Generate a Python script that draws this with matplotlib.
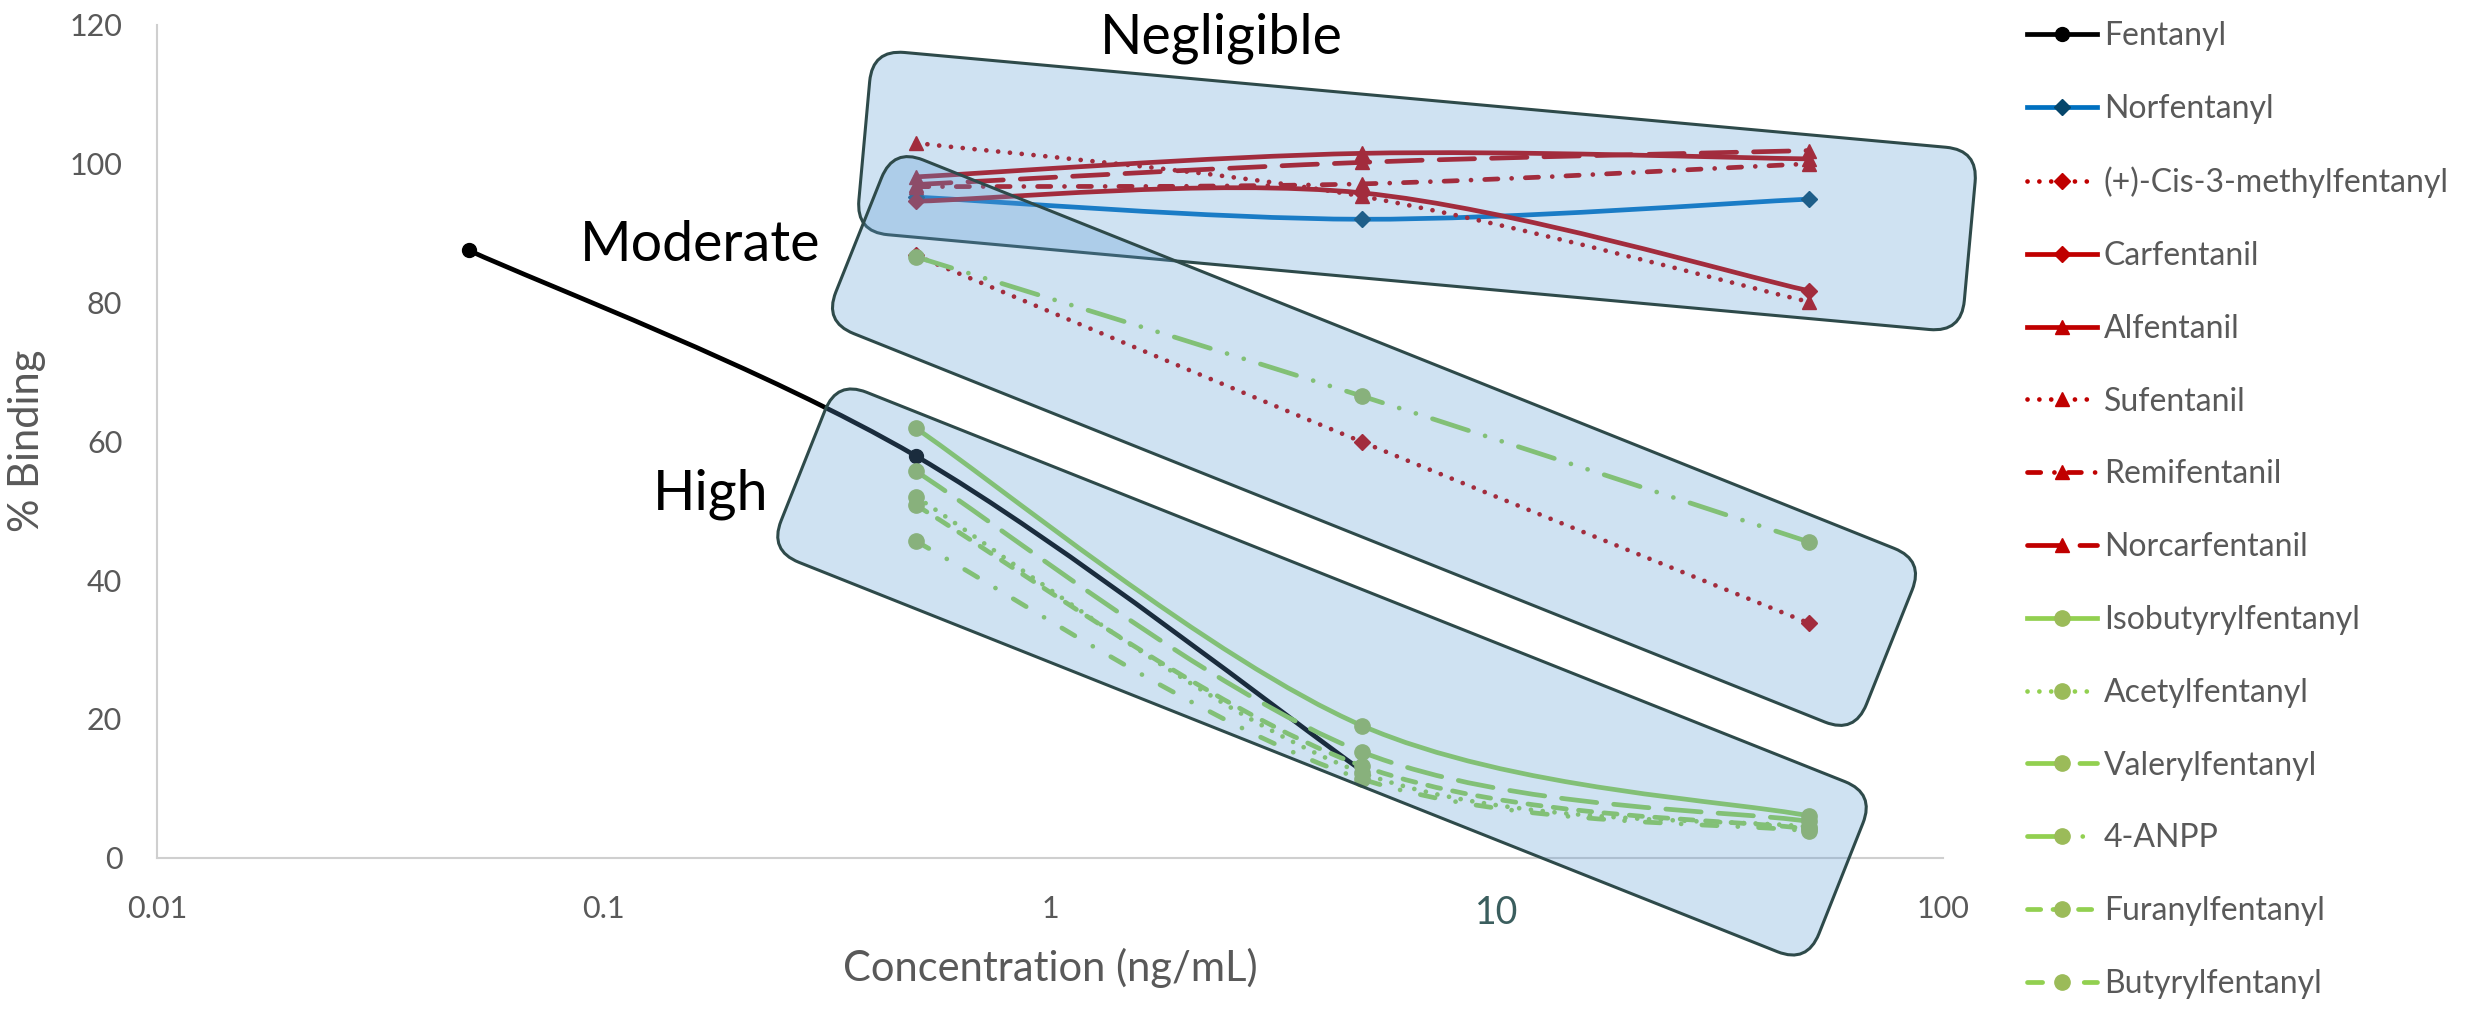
import numpy as np
import matplotlib
matplotlib.use("Agg")
import matplotlib.pyplot as plt
from matplotlib.path import Path
from matplotlib.patches import PathPatch, FancyBboxPatch
from matplotlib.lines import Line2D
from matplotlib.transforms import Affine2D
from matplotlib.ticker import NullLocator

plt.rcParams['font.family'] = ['Lato', 'DejaVu Sans']

# concentrations (ng/mL)
conc_fentanyl = [0.05, 0.5, 5]
conc = [0.5, 5, 50]

# % binding
fentanyl = [87.5, 57.9, 12.5]
norfentanyl = [95.2, 92.0, 94.9]
cis3_methylfentanyl = [86.8, 59.9, 33.8]
carfentanil = [94.6, 95.8, 81.7]
alfentanil = [98.1, 101.5, 100.7]
sufentanil = [103.0, 95.3, 80.1]
remifentanil = [96.7, 97.1, 100.0]
norcarfentanil = [97.0, 100.2, 101.9]
isobutyrylfentanyl = [61.9, 19.0, 6.0]
acetylfentanyl = [52.0, 12.2, 4.4]
valerylfentanyl = [55.7, 15.2, 5.2]
anpp = [86.6, 66.5, 45.5]
furanylfentanyl = [50.8, 13.2, 4.1]
butyrylfentanyl = [45.6, 11.3, 3.8]

x_ticks = [0.01, 0.1, 1, 10, 100]
x_tick_labels = ["0.01", "0.1", "1", "10", "100"]
y_ticks = [0, 20, 40, 60, 80, 100, 120]

W, H = 2483, 1010

RED = "#C00000"
GREEN = "#92D050"
GREEN_M = "#9BBB59"
LW = 3.4

solid = "-"
dot = (0, (0.01, 2.5))
dash = (0, (2.8, 2.6))
lgdash = (0, (7.5, 3.6))
dashdot = (0, (2.8, 2.9, 0.01, 2.9))
lgdashdot = (0, (3.2, 4.4, 0.01, 4.4))
lgdashdotdot = (0, (8.0, 3.7, 0.01, 3.7, 0.01, 3.7))

# label, x, y, line colour, marker, marker colour, marker size, linestyle
series = [
    ("Fentanyl", conc_fentanyl, fentanyl, "black", "o", "black", 10, solid),
    ("Norfentanyl", conc, norfentanyl, "#0070C0", "D", "#06466B", 8, solid),
    ("(+)-Cis-3-methylfentanyl", conc, cis3_methylfentanyl, RED, "D", RED, 8, dot),
    ("Carfentanil", conc, carfentanil, RED, "D", RED, 8, solid),
    ("Alfentanil", conc, alfentanil, RED, "^", RED, 10, solid),
    ("Sufentanil", conc, sufentanil, RED, "^", RED, 10, dot),
    ("Remifentanil", conc, remifentanil, RED, "^", RED, 10, dashdot),
    ("Norcarfentanil", conc, norcarfentanil, RED, "^", RED, 10, lgdash),
    ("Isobutyrylfentanyl", conc, isobutyrylfentanyl, GREEN, "o", GREEN_M, 11, solid),
    ("Acetylfentanyl", conc, acetylfentanyl, GREEN, "o", GREEN_M, 11, dot),
    ("Valerylfentanyl", conc, valerylfentanyl, GREEN, "o", GREEN_M, 11, lgdash),
    ("4-ANPP", conc, anpp, GREEN, "o", GREEN_M, 11, lgdashdotdot),
    ("Furanylfentanyl", conc, furanylfentanyl, GREEN, "o", GREEN_M, 11, dash),
    ("Butyrylfentanyl", conc, butyrylfentanyl, GREEN, "o", GREEN_M, 11, lgdashdot),
]


def smooth_path(xs, ys):
    # Excel-like smoothed line: cubic Bezier through the points (log-x space)
    pts = np.column_stack([np.log10(xs), ys])
    n = len(pts)
    verts = [pts[0]]
    codes = [Path.MOVETO]
    for i in range(n - 1):
        p_prev = pts[i - 1] if i > 0 else pts[i]
        p_next = pts[i + 2] if i + 2 < n else pts[i + 1]
        c1 = pts[i] + (pts[i + 1] - p_prev) / 6
        c2 = pts[i + 1] - (p_next - pts[i]) / 6
        verts += [c1, c2, pts[i + 1]]
        codes += [Path.CURVE4] * 3
    verts = np.array(verts)
    verts[:, 0] = 10 ** verts[:, 0]
    return Path(verts, codes)


fig = plt.figure(figsize=(W / 100, H / 100), dpi=100)
ax = fig.add_axes([157 / W, 1 - 857.5 / H, (1943 - 157) / W, (857.5 - 25) / H])
ax.set_xscale("log")
ax.set_xlim(0.01, 100)
ax.set_ylim(0, 120)

handles = []
for label, xs, ys, col, mk, mcol, ms, ls in series:
    ax.add_patch(PathPatch(smooth_path(xs, ys), fill=False, edgecolor=col,
                           lw=LW, linestyle=ls, capstyle="round", zorder=2))
    ax.plot(xs, ys, linestyle="none", marker=mk, ms=ms, color=mcol, zorder=3)
    handles.append(Line2D([], [], color=col, lw=LW, linestyle=ls,
                          dash_capstyle="round", marker=mk, ms=ms,
                          markerfacecolor=mcol, markeredgecolor=mcol, label=label))

ax.set_xticks(x_ticks)
ax.set_xticklabels(x_tick_labels)
ax.xaxis.set_minor_locator(NullLocator())
ax.set_yticks(y_ticks)
ax.tick_params(axis="both", length=0, labelsize=22, labelcolor="#595959")
ax.tick_params(axis="x", pad=27)
ax.tick_params(axis="y", pad=25)
ten = ax.get_xticklabels()[3]
ten.set_color("#3B5E5E")
ten.set_fontsize(27)

for s in ["top", "right"]:
    ax.spines[s].set_visible(False)
for s in ["left", "bottom"]:
    ax.spines[s].set_color("#CFCFCF")
    ax.spines[s].set_linewidth(1.5)

ax.set_xlabel("Concentration (ng/mL)", fontsize=30, color="#595959", va="top")
ax.xaxis.set_label_coords(0.5, -0.108)
ax.set_ylabel("% Binding", fontsize=30, color="#595959")
ax.yaxis.set_label_coords(-0.062, 0.5)

# rounded, rotated boxes grouping the compounds (figure pixel coords, y down)
boxes = [
    (1417, 191, 1110, 183, 5.2),
    (1374, 441, 1110, 187, 21.8),
    (1322, 672, 1117, 183, 21.7),
]
for cx, cy, bw, bh, ang in boxes:
    tr = (Affine2D().rotate_deg(ang).translate(cx, cy)
          .scale(1 / W, -1 / H).translate(0, 1) + fig.transFigure)
    box = FancyBboxPatch((-bw / 2, -bh / 2), bw, bh,
                         boxstyle="round,pad=0,rounding_size=32",
                         facecolor=(0.357, 0.608, 0.835, 0.29),
                         edgecolor="#2E4A4A", lw=2.2, transform=tr, zorder=2)
    fig.add_artist(box)

fig.text(1100 / W, 1 - 54 / H, "Negligible", fontsize=40, va="baseline", ha="left")
fig.text(580 / W, 1 - 261 / H, "Moderate", fontsize=40, va="baseline", ha="left")
fig.text(653 / W, 1 - 510 / H, "High", fontsize=40, va="baseline", ha="left")

leg = fig.legend(handles=handles, loc="upper left",
                 bbox_to_anchor=(2027 / W, 1 - 21 / H), frameon=False,
                 fontsize=23, handlelength=2.2, handletextpad=0.2,
                 labelspacing=1.34, borderpad=0, borderaxespad=0)
for t in leg.get_texts():
    t.set_color("#595959")

fig.savefig("out.png", dpi=100)
